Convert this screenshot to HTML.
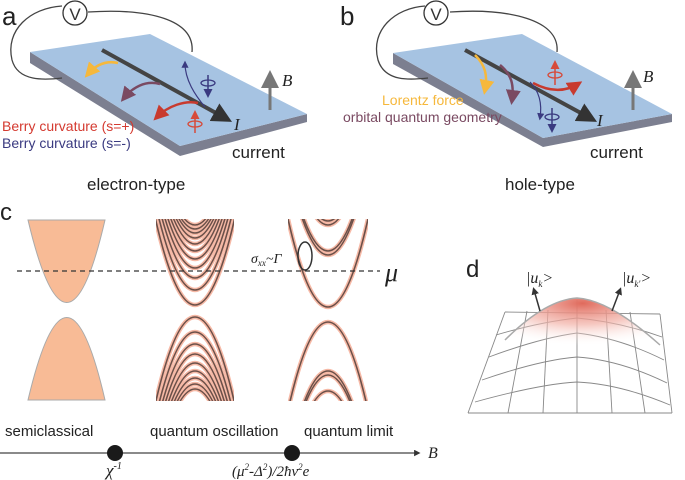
<!DOCTYPE html>
<html><head><meta charset="utf-8"><style>
html,body{margin:0;padding:0;background:#fff;width:685px;height:480px;overflow:hidden;}
svg{display:block;font-family:"Liberation Sans",sans-serif;}
.s{font-family:"Liberation Serif",serif;font-style:italic;}
</style></head><body>
<svg width="685" height="480" viewBox="0 0 685 480">
<defs>
<marker id="ah" markerWidth="6" markerHeight="6" refX="4" refY="3" orient="auto"><path d="M0,0 L6,3 L0,6 z" fill="context-stroke"/></marker>
<marker id="ak" markerWidth="5" markerHeight="5" refX="3" refY="2.5" orient="auto"><path d="M0,0 L5,2.5 L0,5 z" fill="#333"/></marker>
<radialGradient id="rg" cx="0.5" cy="0.1" r="0.8"><stop offset="0" stop-color="#e06a5c"/><stop offset="0.5" stop-color="#f2b2a8" stop-opacity="0.7"/><stop offset="1" stop-color="#fff" stop-opacity="0"/></radialGradient>
<clipPath id="cmt"><rect x="156" y="219" width="78" height="92"/></clipPath>
<clipPath id="cmb"><rect x="156" y="311" width="78" height="90"/></clipPath>
<clipPath id="crt"><rect x="288" y="219" width="80" height="94"/></clipPath>
<clipPath id="crb"><rect x="288" y="313" width="80" height="88"/></clipPath>
<g id="midt">
<path d="M155,217 Q195,393 235,217"/><path d="M155,202 Q195,378 235,202"/><path d="M155,190 Q195,366 235,190"/><path d="M155,180 Q195,356 235,180"/><path d="M155,171 Q195,347 235,171"/><path d="M155,163 Q195,339 235,163"/><path d="M155,156 Q195,332 235,156"/><path d="M155,150 Q195,326 235,150"/><path d="M155,145 Q195,321 235,145"/><path d="M155,141 Q195,317 235,141"/><path d="M155,137 Q195,313 235,137"/>
</g>
<g id="midb">
<path d="M155,405 Q195,229 235,405"/><path d="M155,420 Q195,244 235,420"/><path d="M155,432 Q195,256 235,432"/><path d="M155,442 Q195,266 235,442"/><path d="M155,451 Q195,275 235,451"/><path d="M155,459 Q195,283 235,459"/><path d="M155,466 Q195,290 235,466"/><path d="M155,472 Q195,296 235,472"/><path d="M155,477 Q195,301 235,477"/>
</g>
<g id="rgtt">
<path d="M288,219 Q328,395 368,219"/><path d="M288,163 Q328,339 368,163"/><path d="M288,167 Q328,343 368,167"/><path d="M288,133 Q328,309 368,133"/><path d="M288,137 Q328,313 368,137"/>
</g>
<g id="rgtb">
<path d="M288,410 Q328,234 368,410"/><path d="M288,459 Q328,283 368,459"/><path d="M288,463 Q328,287 368,463"/><path d="M288,479 Q328,303 368,479"/>
</g>
</defs>

<!-- Panel a -->
<g>
<text x="2" y="25" font-size="26" fill="#222">a</text>
<polygon points="30,52 30,63 180,156 307,122 307,114 180,146" fill="#7c7f90"/>
<polygon points="30,52 150,34 307,114 180,146" fill="#a6c3e2"/>
<path d="M62,6 C30,8 5,30 12,60 C18,82 45,80 62,78" fill="none" stroke="#444" stroke-width="1.3"/>
<path d="M88,12 C150,8 195,20 192,52" fill="none" stroke="#444" stroke-width="1.3"/>
<circle cx="75" cy="13" r="12" fill="#fff" stroke="#333" stroke-width="1.3"/>
<text x="75" y="20" font-size="17" text-anchor="middle" fill="#333">V</text>
<line x1="102" y1="50" x2="225" y2="118" stroke="#444" stroke-width="4" marker-end="url(#ak)"/>
<path d="M118,63 C105,60 95,66 88,74" fill="none" stroke="#f6b83c" stroke-width="2.5" marker-end="url(#ah)"/>
<path d="M160,84 C145,80 132,88 124,98" fill="none" stroke="#7a4a62" stroke-width="2.5" marker-end="url(#ah)"/>
<path d="M198,103 C185,100 168,106 157,117" fill="none" stroke="#c83a2e" stroke-width="2.5" marker-end="url(#ah)"/>
<path d="M205,107 C195,95 185,80 185,63" fill="none" stroke="#3a3a80" stroke-width="1.2" marker-end="url(#ah)"/>
<ellipse cx="208" cy="83" rx="7" ry="3" fill="none" stroke="#3a3a80" stroke-width="1.3"/>
<line x1="208" y1="75" x2="208" y2="95" stroke="#3a3a80" stroke-width="1.5" marker-end="url(#ah)"/>
<ellipse cx="195" cy="124" rx="7" ry="3" fill="none" stroke="#d64a3a" stroke-width="1.3"/>
<line x1="195" y1="133" x2="195" y2="113" stroke="#d64a3a" stroke-width="1.5" marker-end="url(#ah)"/>
<line x1="270" y1="110" x2="270" y2="76" stroke="#777" stroke-width="3" marker-end="url(#ah)"/>
<text x="282" y="86" class="s" font-size="17" fill="#222">B</text>
<text x="234" y="130" class="s" font-size="17" fill="#222">I</text>
<text x="2" y="131" font-size="14" fill="#d43a30">Berry curvature (s=+)</text>
<text x="2" y="148" font-size="14" fill="#3a3a80">Berry curvature (s=-)</text>
<text x="232" y="158" font-size="17" fill="#222">current</text>
<text x="87" y="190" font-size="17" fill="#222">electron-type</text>
</g>

<!-- Panel b -->
<g>
<text x="340" y="25" font-size="26" fill="#222">b</text>
<polygon points="393,53 393,64 543,147 672,122 672,114 543,138" fill="#7c7f90"/>
<polygon points="393,53 522,34 672,114 543,138" fill="#a6c3e2"/>
<path d="M425,6 C395,8 370,30 378,60 C385,82 410,80 428,78" fill="none" stroke="#444" stroke-width="1.3"/>
<path d="M450,12 C510,8 560,20 557,52" fill="none" stroke="#444" stroke-width="1.3"/>
<circle cx="436" cy="13" r="12" fill="#fff" stroke="#333" stroke-width="1.3"/>
<text x="436" y="20" font-size="17" text-anchor="middle" fill="#333">V</text>
<line x1="465" y1="50" x2="590" y2="118" stroke="#444" stroke-width="4" marker-end="url(#ak)"/>
<path d="M475,55 C485,65 488,75 485,90" fill="none" stroke="#f6b83c" stroke-width="2.5" marker-end="url(#ah)"/>
<path d="M500,65 C512,75 514,85 512,100" fill="none" stroke="#7a4a62" stroke-width="2.5" marker-end="url(#ah)"/>
<path d="M530,82 C540,92 542,105 540,118" fill="none" stroke="#3a3a80" stroke-width="1.2" marker-end="url(#ah)"/>
<path d="M533,83 C550,92 565,92 578,84" fill="none" stroke="#c83a2e" stroke-width="2.5" marker-end="url(#ah)"/>
<ellipse cx="555" cy="75" rx="7" ry="3" fill="none" stroke="#d64a3a" stroke-width="1.3"/>
<line x1="555" y1="85" x2="555" y2="63" stroke="#d64a3a" stroke-width="1.5" marker-end="url(#ah)"/>
<ellipse cx="552" cy="117" rx="7" ry="3" fill="none" stroke="#3a3a80" stroke-width="1.3"/>
<line x1="552" y1="108" x2="552" y2="130" stroke="#3a3a80" stroke-width="1.5" marker-end="url(#ah)"/>
<line x1="633" y1="110" x2="633" y2="76" stroke="#777" stroke-width="3" marker-end="url(#ah)"/>
<text x="643" y="82" class="s" font-size="17" fill="#222">B</text>
<text x="597" y="126" class="s" font-size="17" fill="#222">I</text>
<text x="382" y="105" font-size="14" fill="#f6b83c">Lorentz force</text>
<text x="343" y="122" font-size="14" fill="#7a4a62">orbital quantum geometry</text>
<text x="590" y="158" font-size="17" fill="#222">current</text>
<text x="505" y="190" font-size="17" fill="#222">hole-type</text>
</g>

<!-- Panel c -->
<text x="0" y="220" font-size="24" fill="#222">c</text>
<path d="M28,220 Q67,385 105,220 Z" fill="#f8bb96" stroke="#aaa" stroke-width="1"/>
<path d="M28,400 Q67,235 105,400 Z" fill="#f8bb96" stroke="#aaa" stroke-width="1"/>
<g fill="none" clip-path="url(#cmt)">
<use href="#midt" stroke="#f6b9a6" stroke-width="4.5"/>
<use href="#midt" stroke="#6b5049" stroke-width="1.6"/>
</g>
<g fill="none" clip-path="url(#cmb)">
<use href="#midb" stroke="#f6b9a6" stroke-width="4.5"/>
<use href="#midb" stroke="#6b5049" stroke-width="1.6"/>
</g>
<g fill="none" clip-path="url(#crt)">
<use href="#rgtt" stroke="#f6b9a6" stroke-width="4.5"/>
<use href="#rgtt" stroke="#6b5049" stroke-width="1.6"/>
</g>
<g fill="none" clip-path="url(#crb)">
<use href="#rgtb" stroke="#f6b9a6" stroke-width="4.5"/>
<use href="#rgtb" stroke="#6b5049" stroke-width="1.6"/>
</g>
<line x1="17" y1="271" x2="380" y2="271" stroke="#333" stroke-width="1.3" stroke-dasharray="5,4"/>
<text x="385" y="281" class="s" font-size="26" fill="#222">μ</text>
<ellipse cx="305" cy="256" rx="7" ry="14" fill="none" stroke="#333" stroke-width="1.5"/>
<text x="251" y="263" class="s" font-size="14" fill="#222">σ<tspan font-size="9" dy="3">xx</tspan><tspan dy="-3">~Γ</tspan></text>

<line x1="0" y1="453" x2="418" y2="453" stroke="#444" stroke-width="1.3" marker-end="url(#ak)"/>
<circle cx="115" cy="453" r="8" fill="#1a1a1a"/>
<circle cx="292" cy="453" r="8" fill="#1a1a1a"/>
<text x="5" y="436" font-size="15" fill="#222">semiclassical</text>
<text x="150" y="436" font-size="15" fill="#222">quantum oscillation</text>
<text x="304" y="436" font-size="15" fill="#222">quantum limit</text>
<text x="428" y="458" class="s" font-size="16" fill="#222">B</text>
<text x="106" y="476" class="s" font-size="17" fill="#222">χ<tspan font-size="10" dy="-7">-1</tspan></text>
<text x="232" y="476" class="s" font-size="15" fill="#222">(μ<tspan font-size="9" dy="-6">2</tspan><tspan dy="6">-Δ</tspan><tspan font-size="9" dy="-6">2</tspan><tspan dy="6">)/2ħv</tspan><tspan font-size="9" dy="-6">2</tspan><tspan dy="6">e</tspan></text>

<!-- Panel d -->
<text x="466" y="277" font-size="24" fill="#222">d</text>
<g fill="none" stroke="#888" stroke-width="0.9">
<path d="M505,312 L660,314"/>
<path d="M496,335 Q540,322 577,318 Q620,322 662,337"/>
<path d="M489,357 Q540,338 577,333 Q620,338 664,360"/>
<path d="M482,380 Q540,360 577,357 Q620,360 667,383"/>
<path d="M475,402 Q540,384 577,382 Q620,384 670,405"/>
<path d="M468,413 L672,413"/>
<path d="M505,312 L468,413"/><path d="M527,311 L508,413"/><path d="M548,310 L543,413"/><path d="M577,300 L577,413"/><path d="M606,310 L612,413"/><path d="M630,312 L645,413"/><path d="M660,314 L672,413"/>
</g>
<path d="M505,340 Q545,300 577,298 Q610,300 660,345 Q577,360 505,340 Z" fill="url(#rg)"/>
<path d="M505,340 Q545,300 577,298 Q610,300 660,345" fill="none" stroke="#aaa" stroke-width="1.5"/>
<line x1="540" y1="311" x2="534" y2="290" stroke="#333" stroke-width="1.5" marker-end="url(#ak)"/>
<line x1="612" y1="311" x2="620" y2="290" stroke="#333" stroke-width="1.5" marker-end="url(#ak)"/>
<text x="526" y="283" class="s" font-size="16" fill="#222">|u<tspan font-size="9" dy="4">k</tspan><tspan dy="-4">&gt;</tspan></text>
<text x="622" y="283" class="s" font-size="16" fill="#222">|u<tspan font-size="9" dy="4">k'</tspan><tspan dy="-4">&gt;</tspan></text>
</svg>
</body></html>
